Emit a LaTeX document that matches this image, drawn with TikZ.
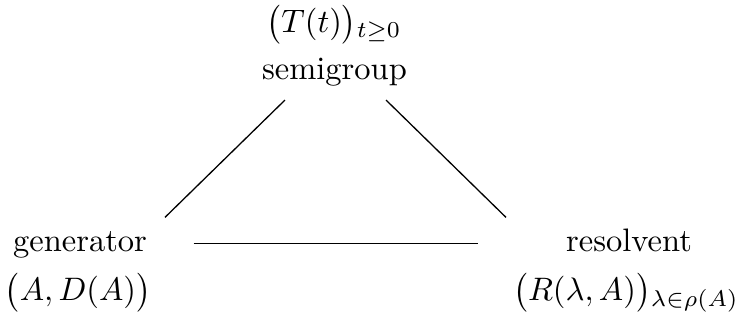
\documentclass[tikz,border=0pt]{standalone}
\usepackage{amsmath}
\usepackage{tikz}
\usetikzlibrary{positioning}

\begin{document}
\begin{tikzpicture}[x=0.3077pt, y=0.3077pt, lbl/.style={inner sep=0pt, anchor=base}]
		\useasboundingbox (0,0) rectangle (744,320);
		\node[lbl] (fam) at (334,287) {$\bigl(T(t)\bigr){}_{t\geq 0}$};
		\node[lbl] (semi) at (334.5,240) {semigroup};
		\node[lbl] (gen) at (80,68) {generator};
		\node[lbl] (pair) at (78,19) {$\bigl(A,D(A)\bigr)$};
		\node[lbl] (res) at (629,68) {resolvent};
		\node[lbl] (resfam) at (626,19) {$\bigl(R(\lambda,A)\bigr){}_{\lambda\in\rho(A)}$};
		
		\draw ([shift={(-49.5,-12.7)}]semi.south) -- ([shift={(85,14)}]gen.north);
		\draw ([shift={(51.5,-12.7)}]semi.south) -- ([shift={(-123,11.4)}]res.north);
		\draw ([shift={(46,8.7)}]gen.base east) -- ([shift={(-87,8.7)}]res.base west);
		\end{tikzpicture}
\end{document}
